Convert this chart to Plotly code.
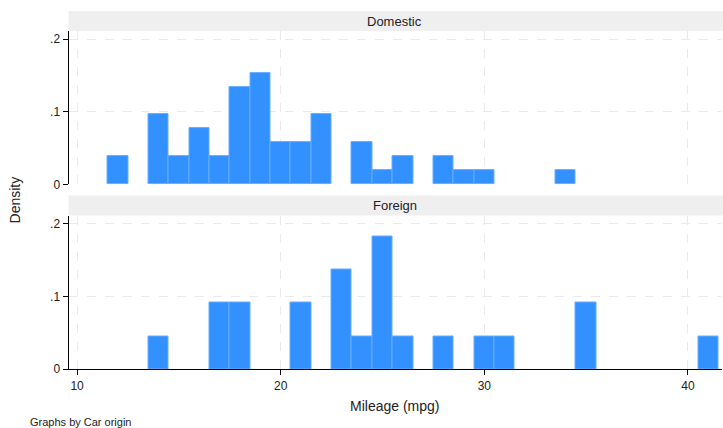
import plotly.graph_objects as go

# Data: mileage values (bin centres, width 1) and car counts per bin
dom_mpg = [12, 14, 15, 16, 17, 18, 19, 20, 21, 22, 24, 25, 26, 28, 29, 30, 34]
dom_count = [2, 5, 2, 4, 2, 7, 8, 3, 3, 5, 3, 1, 2, 2, 1, 1, 1]
for_mpg = [14, 17, 18, 21, 23, 24, 25, 26, 28, 30, 31, 35, 41]
for_count = [1, 2, 2, 2, 3, 1, 4, 1, 1, 1, 1, 2, 1]
panel_titles = ["Domestic", "Foreign"]
x_ticks = [10, 20, 30, 40]
y_ticks = [0, 0.1, 0.2]
y_ticklabels = ["0", ".1", ".2"]

dom_density = [c / sum(dom_count) for c in dom_count]
for_density = [c / sum(for_count) for c in for_count]

W, H = 723, 428
H_LAYOUT = 436
def px(x):
    return x / W
def py(y):
    return 1 - y / H

bar_color = "#3391ff"
line_color = "#66adff"
FONT = "Liberation Sans, Arial, sans-serif"

fig = go.Figure()
fig.add_trace(go.Bar(x=dom_mpg, y=dom_density, width=1, marker=dict(color=bar_color, line=dict(color=line_color, width=1)),
                     xaxis="x", yaxis="y", showlegend=False))
fig.add_trace(go.Bar(x=for_mpg, y=for_density, width=1, marker=dict(color=bar_color, line=dict(color=line_color, width=1)),
                     xaxis="x2", yaxis="y2", showlegend=False))

xdom = [px(68.5), px(722)]
xr = [10 - 8.6 / 20.36, 10 + (722 - 77.1) / 20.36]
grid = dict(showgrid=True, gridcolor="#eaeaea", griddash="dash", gridwidth=1, zeroline=False)

common_x = dict(domain=xdom, range=xr, tickvals=x_ticks, **grid)
common_y = dict(range=[0, 0.2 + 8 / 725], tickvals=y_ticks, ticktext=y_ticklabels,
                showline=True, linecolor="black", linewidth=1, ticks="outside", ticklen=5,
                tickcolor="black", tickfont=dict(size=12, color="#222"), **grid)

fig.update_layout(
    width=W, height=H_LAYOUT, autosize=False, margin=dict(l=0, r=0, t=0, b=0, pad=0),
    plot_bgcolor="white", paper_bgcolor="white", bargap=0,
    font=dict(family=FONT, color="#222"),
    xaxis=dict(anchor="y", showticklabels=False, ticks="", **common_x),
    xaxis2=dict(anchor="y2", showline=True, linecolor="black", linewidth=1, ticks="outside",
                ticklen=5, tickcolor="black", tickfont=dict(size=12, color="#222"), **common_x),
    yaxis=dict(anchor="x", domain=[py(184), py(31)], **common_y),
    yaxis2=dict(anchor="x2", domain=[py(368.3), py(215)], **common_y),
)

shapes = []
annotations = []
for (top, bot), title in zip([(11, 31), (195, 215)], panel_titles):
    shapes.append(dict(type="rect", xref="paper", yref="paper", x0=px(68.5), x1=1, y0=py(bot), y1=py(top),
                       fillcolor="#efefef", line=dict(width=0), layer="below"))
    annotations.append(dict(text=title, xref="paper", yref="paper", x=px(395), y=py((top + bot) / 2),
                            showarrow=False, font=dict(size=13, color="#222"), xanchor="center", yanchor="middle"))

annotations.append(dict(text="Density", xref="paper", yref="paper", x=px(15), y=py(200), textangle=-90,
                        showarrow=False, font=dict(size=14, color="#222"), xanchor="center", yanchor="middle"))
annotations.append(dict(text="Mileage (mpg)", xref="paper", yref="paper", x=px(395), y=py(405),
                        showarrow=False, font=dict(size=14, color="#222"), xanchor="center", yanchor="middle"))
annotations.append(dict(text="Graphs by Car origin", xref="paper", yref="paper", x=px(28), y=py(421),
                        showarrow=False, font=dict(size=11, color="#222"), xanchor="left", yanchor="middle"))
fig.update_layout(shapes=shapes, annotations=annotations)

post = ("document.documentElement.style.margin='0px';document.documentElement.style.overflow='hidden';"
        "document.body.style.margin='0px';document.body.style.overflow='hidden';")
fig.write_html("out.html", config={"displayModeBar": False, "responsive": False}, post_script=post)
